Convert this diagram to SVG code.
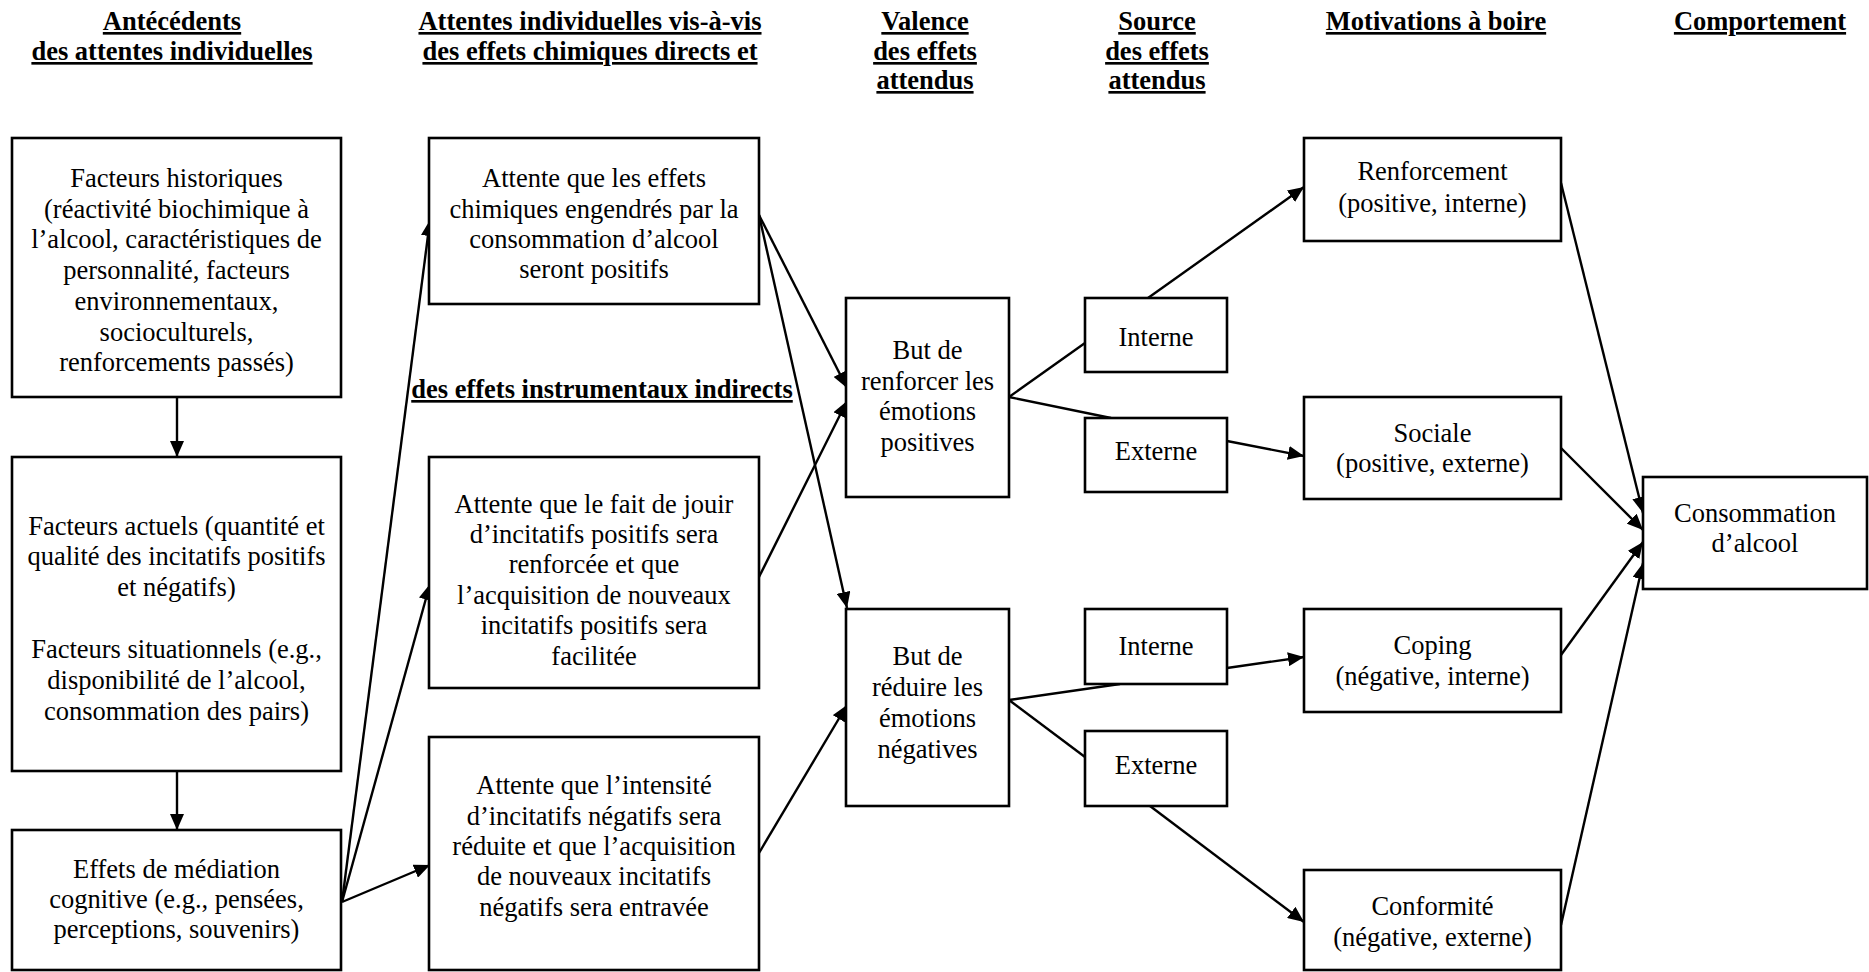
<svg xmlns="http://www.w3.org/2000/svg" width="1869" height="972" viewBox="0 0 1869 972">
<style>
text{font-family:"Liberation Serif","Times New Roman",serif;font-size:26.5px;fill:#000;text-anchor:middle}
.h{font-weight:bold;text-decoration:underline}
.box{fill:#fff;stroke:#000;stroke-width:2.6}
.c line{stroke:#000;stroke-width:2.4}
.a{marker-end:url(#arr)}
</style>
<defs>
<marker id="arr" viewBox="0 0 16 14" refX="16" refY="7" markerWidth="16" markerHeight="14" orient="auto" markerUnits="userSpaceOnUse">
<path d="M0,0 L16,7 L0,14 z" fill="#000"/>
</marker>
</defs>
<rect width="1869" height="972" fill="#fff"/>

<g id="headers">
<text class="h" x="172" y="30">Antécédents</text>
<text class="h" x="172" y="60">des attentes individuelles</text>
<text class="h" x="590" y="30">Attentes individuelles vis-à-vis</text>
<text class="h" x="590" y="60">des effets chimiques directs et</text>
<text class="h" x="925" y="30">Valence</text>
<text class="h" x="925" y="60">des effets</text>
<text class="h" x="925" y="89">attendus</text>
<text class="h" x="1157" y="30">Source</text>
<text class="h" x="1157" y="60">des effets</text>
<text class="h" x="1157" y="89">attendus</text>
<text class="h" x="1436" y="30">Motivations à boire</text>
<text class="h" x="1760" y="30">Comportement</text>
<text class="h" x="602" y="398">des effets instrumentaux indirects</text>
</g>

<g id="connectors" class="c">
<line class="a" x1="177" y1="397" x2="177" y2="457"/>
<line class="a" x1="177" y1="771" x2="177" y2="830"/>
<line class="a" x1="342" y1="902" x2="430" y2="220"/>
<line class="a" x1="342" y1="902" x2="430" y2="584"/>
<line class="a" x1="342" y1="902" x2="430" y2="865"/>
<line class="a" x1="759" y1="215" x2="847" y2="388"/>
<line class="a" x1="759" y1="215" x2="847" y2="608"/>
<line class="a" x1="759" y1="577" x2="847" y2="401"/>
<line class="a" x1="759" y1="853" x2="847" y2="705"/>
<line x1="1009" y1="397" x2="1085" y2="343"/>
<line x1="1009" y1="397" x2="1111" y2="418"/>
<line class="a" x1="1148" y1="298" x2="1304" y2="187"/>
<line class="a" x1="1227" y1="441" x2="1304" y2="456"/>
<line x1="1009" y1="700" x2="1120" y2="684"/>
<line x1="1009" y1="700" x2="1085" y2="757"/>
<line class="a" x1="1227" y1="668" x2="1304" y2="657"/>
<line class="a" x1="1150" y1="806" x2="1304" y2="922"/>
<line class="a" x1="1561" y1="183" x2="1643" y2="513"/>
<line class="a" x1="1561" y1="448" x2="1643" y2="530"/>
<line class="a" x1="1561" y1="655" x2="1643" y2="542"/>
<line class="a" x1="1561" y1="925" x2="1643" y2="563"/>
</g>

<g id="historiques">
<rect class="box" x="12" y="138" width="329" height="259"/>
<text x="176.5" y="187">Facteurs historiques</text>
<text x="176.5" y="218">(réactivité biochimique à</text>
<text x="176.5" y="248">l’alcool, caractéristiques de</text>
<text x="176.5" y="279">personnalité, facteurs</text>
<text x="176.5" y="310">environnementaux,</text>
<text x="176.5" y="341">socioculturels,</text>
<text x="176.5" y="371">renforcements passés)</text>
</g>

<g id="actuels">
<rect class="box" x="12" y="457" width="329" height="314"/>
<text x="176.5" y="535">Facteurs actuels (quantité et</text>
<text x="176.5" y="565">qualité des incitatifs positifs</text>
<text x="176.5" y="596">et négatifs)</text>
<text x="176.5" y="658">Facteurs situationnels (e.g.,</text>
<text x="176.5" y="689">disponibilité de l’alcool,</text>
<text x="176.5" y="720">consommation des pairs)</text>
</g>

<g id="mediation">
<rect class="box" x="12" y="830" width="329" height="140"/>
<text x="176.5" y="878">Effets de médiation</text>
<text x="176.5" y="908">cognitive (e.g., pensées,</text>
<text x="176.5" y="938">perceptions, souvenirs)</text>
</g>

<g id="attente-chimiques">
<rect class="box" x="429" y="138" width="330" height="166"/>
<text x="594" y="187">Attente que les effets</text>
<text x="594" y="218">chimiques engendrés par la</text>
<text x="594" y="248">consommation d’alcool</text>
<text x="594" y="278">seront positifs</text>
</g>

<g id="attente-positifs">
<rect class="box" x="429" y="457" width="330" height="231"/>
<text x="594" y="513">Attente que le fait de jouir</text>
<text x="594" y="543">d’incitatifs positifs sera</text>
<text x="594" y="573">renforcée et que</text>
<text x="594" y="604">l’acquisition de nouveaux</text>
<text x="594" y="634">incitatifs positifs sera</text>
<text x="594" y="665">facilitée</text>
</g>

<g id="attente-negatifs">
<rect class="box" x="429" y="737" width="330" height="233"/>
<text x="594" y="794">Attente que l’intensité</text>
<text x="594" y="825">d’incitatifs négatifs sera</text>
<text x="594" y="855">réduite et que l’acquisition</text>
<text x="594" y="885">de nouveaux incitatifs</text>
<text x="594" y="916">négatifs sera entravée</text>
</g>

<g id="but-renforcer">
<rect class="box" x="846" y="298" width="163" height="199"/>
<text x="927.5" y="359">But de</text>
<text x="927.5" y="390">renforcer les</text>
<text x="927.5" y="420">émotions</text>
<text x="927.5" y="451">positives</text>
</g>

<g id="but-reduire">
<rect class="box" x="846" y="609" width="163" height="197"/>
<text x="927.5" y="665">But de</text>
<text x="927.5" y="696">réduire les</text>
<text x="927.5" y="727">émotions</text>
<text x="927.5" y="758">négatives</text>
</g>

<g id="interne1">
<rect class="box" x="1085" y="298" width="142" height="74"/>
<text x="1156" y="346">Interne</text>
</g>
<g id="externe1">
<rect class="box" x="1085" y="418" width="142" height="74"/>
<text x="1156" y="460">Externe</text>
</g>
<g id="interne2">
<rect class="box" x="1085" y="609" width="142" height="75"/>
<text x="1156" y="655">Interne</text>
</g>
<g id="externe2">
<rect class="box" x="1085" y="731" width="142" height="75"/>
<text x="1156" y="774">Externe</text>
</g>

<g id="renforcement">
<rect class="box" x="1304" y="138" width="257" height="103"/>
<text x="1432.5" y="180">Renforcement</text>
<text x="1432.5" y="212">(positive, interne)</text>
</g>
<g id="sociale">
<rect class="box" x="1304" y="397" width="257" height="102"/>
<text x="1432.5" y="442">Sociale</text>
<text x="1432.5" y="472">(positive, externe)</text>
</g>
<g id="coping">
<rect class="box" x="1304" y="609" width="257" height="103"/>
<text x="1432.5" y="654">Coping</text>
<text x="1432.5" y="685">(négative, interne)</text>
</g>
<g id="conformite">
<rect class="box" x="1304" y="870" width="257" height="100"/>
<text x="1432.5" y="915">Conformité</text>
<text x="1432.5" y="946">(négative, externe)</text>
</g>

<g id="consommation">
<rect class="box" x="1643" y="477" width="224" height="112"/>
<text x="1755" y="522">Consommation</text>
<text x="1755" y="552">d’alcool</text>
</g>
</svg>
